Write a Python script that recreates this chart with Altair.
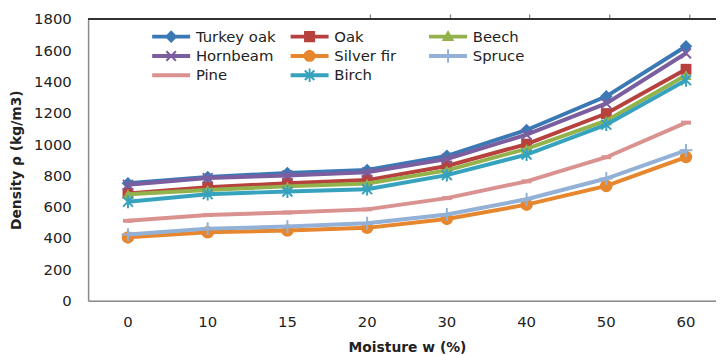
import math
import altair as alt
import pandas as pd

# ---------------- data ----------------
moisture = ["0", "10", "15", "20", "30", "40", "50", "60"]
series = ["Turkey oak", "Oak", "Beech", "Hornbeam", "Silver fir", "Spruce", "Pine", "Birch"]
turkey_oak = [750, 790, 815, 835, 925, 1090, 1305, 1625]
oak = [685, 725, 750, 770, 860, 1000, 1195, 1478]
beech = [680, 707, 730, 748, 832, 970, 1150, 1440]
hornbeam = [740, 783, 800, 820, 905, 1060, 1260, 1580]
silver_fir = [404, 437, 448, 465, 522, 613, 733, 917]
spruce = [422, 460, 473, 495, 550, 648, 780, 960]
pine = [510, 547, 563, 583, 655, 762, 916, 1137]
birch = [632, 680, 697, 712, 802, 933, 1124, 1408]
y_ticks = [0, 200, 400, 600, 800, 1000, 1200, 1400, 1600, 1800]

values = [turkey_oak, oak, beech, hornbeam, silver_fir, spruce, pine, birch]
rows = []
for s, vals in zip(series, values):
    for m, v in zip(moisture, vals):
        rows.append({"series": s, "moisture": m, "density": v})
df = pd.DataFrame(rows)

# ---------------- style ----------------
colors = ["#3B79B5", "#B7413D", "#93B24C", "#7B5EA0", "#E6862E", "#93B1D6", "#D9928F", "#36A2BE"]
FONT = "DejaVu Sans"


def rect(x0, y0, x1, y1):
    return f"M{x0},{y0}H{x1}V{y1}H{x0}Z"


def seg(x0, y0, x1, y1, h):
    dx, dy = x1 - x0, y1 - y0
    L = math.hypot(dx, dy)
    nx, ny = -dy / L * h, dx / L * h
    pts = [(x0 + nx, y0 + ny), (x1 + nx, y1 + ny), (x1 - nx, y1 - ny), (x0 - nx, y0 - ny)]
    area = sum(pts[i][0] * pts[(i + 1) % 4][1] - pts[(i + 1) % 4][0] * pts[i][1] for i in range(4))
    if area < 0:
        pts = pts[::-1]
    return "M" + "L".join(f"{x:.3f},{y:.3f}" for x, y in pts) + "Z"


LINE = rect(-2.4, -0.25, 2.4, 0.25)
XSHAPE = seg(-0.6, -0.6, 0.6, 0.6, 0.13) + seg(-0.6, 0.6, 0.6, -0.6, 0.13)
VBAR = rect(-0.12, -0.85, 0.12, 0.85)
legend_paths = [
    LINE + "M0,-0.8L0.8,0L0,0.8L-0.8,0Z",
    LINE + rect(-0.7, -0.7, 0.7, 0.7),
    LINE + "M0,-0.85L0.8,0.55L-0.8,0.55Z",
    LINE + XSHAPE,
    LINE + "M0.75,0A0.75,0.75,0,1,1,-0.75,0A0.75,0.75,0,1,1,0.75,0Z",
    LINE + VBAR,
    LINE,
    LINE + XSHAPE + VBAR,
]

markers = {
    "Turkey oak": dict(shape="diamond", filled=True, size=160),
    "Oak": dict(shape="square", filled=True, size=120),
    "Beech": dict(shape="triangle-up", filled=True, size=130),
    "Hornbeam": dict(shape="M-1,-1L1,1M-1,1L1,-1", filled=False, size=100, strokeWidth=2),
    "Silver fir": dict(shape="circle", filled=True, size=160),
    "Spruce": dict(shape="M0,-1L0,1M-1,0L1,0", filled=False, size=169, strokeWidth=2),
    "Pine": dict(shape="M-1,-0.4H1V0.4H-1Z", filled=True, size=100),
    "Birch": dict(shape="M-1,-1L1,1M-1,1L1,-1M0,-1.3L0,1.3", filled=False, size=100, strokeWidth=2),
}

xscale = alt.Scale(type="band", domain=moisture, paddingInner=0, paddingOuter=0, range=[0, 645])
yscale = alt.Scale(domain=[0, 1800], nice=False, zero=True)
cscale = alt.Scale(domain=series, range=colors)

legend = alt.Legend(
    orient="none", legendX=76, legendY=10, columns=3, direction="horizontal", gridAlign="all",
    columnPadding=14, rowPadding=3.5, labelFont=FONT, labelFontSize=15,
    labelColor="#222222", labelOffset=17, symbolSize=256, symbolStrokeWidth=0,
    padding=0, title=None,
)

base = alt.Chart(df)

# legend-only layer (no marks drawn) carrying the inner tick axes
legend_layer = base.transform_filter("false").mark_point(filled=True, opacity=1, size=256).encode(
    x=alt.X("moisture:O", scale=xscale,
            axis=alt.Axis(orient="top", position=285, domain=False, labels=False, title=None,
                          tickBand="extent", tickSize=5, tickColor="#8a8a8a", tickWidth=1.3, grid=False)),
    y=alt.Y("density:Q", scale=yscale,
            axis=alt.Axis(orient="right", position=0, domain=False, labels=False, title=None,
                          values=y_ticks[1:-1], tickSize=5, tickColor="#8a8a8a", tickWidth=1.3, grid=False)),
    color=alt.Color("series:N", scale=cscale, legend=legend),
    shape=alt.Shape("series:N", scale=alt.Scale(domain=series, range=legend_paths), legend=legend),
)

top_border = base.mark_rule(color="#333333", strokeWidth=1).encode(
    y=alt.Y(datum=1800, type="quantitative", scale=yscale, axis=None)
)

layers = [legend_layer, top_border]
for i, s in enumerate(series):
    sub = base.transform_filter(alt.datum.series == s)
    if i == 0:
        xax = alt.Axis(orient="bottom", ticks=False, domainColor="#8a8a8a", domainWidth=1.5,
                       labelAngle=0, labelFont=FONT, labelFontSize=15, labelColor="#222222",
                       labelPadding=14, title="Moisture w (%)", titleFont=FONT, titleFontSize=14,
                       titleFontWeight="bold", titleColor="#222222", titlePadding=11, grid=False)
        yax = alt.Axis(orient="left", ticks=False, values=y_ticks, format="d", domainColor="#8a8a8a",
                       domainWidth=1.5, labelFont=FONT, labelFontSize=15, labelColor="#222222",
                       labelPadding=17, title="Density ρ (kg/m3)", titleFont=FONT, titleFontSize=14,
                       titleFontWeight="bold", titleColor="#222222", titlePadding=10, grid=False)
    else:
        xax = None
        yax = None
    line = sub.mark_line(strokeWidth=4).encode(
        x=alt.X("moisture:O", scale=xscale, axis=xax),
        y=alt.Y("density:Q", scale=yscale, axis=yax),
        color=alt.Color("series:N", scale=cscale, legend=None),
    )
    mk = markers[s]
    pt = sub.mark_point(opacity=1, **mk).encode(
        x=alt.X("moisture:O", scale=xscale, axis=None),
        y=alt.Y("density:Q", scale=yscale, axis=None),
        color=alt.Color("series:N", scale=cscale, legend=None),
    )
    layers += [line, pt]

chart = alt.layer(*layers).resolve_axis(x="independent", y="independent").properties(
    width=635, height=285,
    autosize=alt.AutoSizeParams(type="none"),
    padding={"left": 81, "top": 9, "right": 0, "bottom": 53},
).configure_view(stroke=None).configure(background="white")

chart.save("out.html", embed_options={"renderer": "svg", "actions": False})
